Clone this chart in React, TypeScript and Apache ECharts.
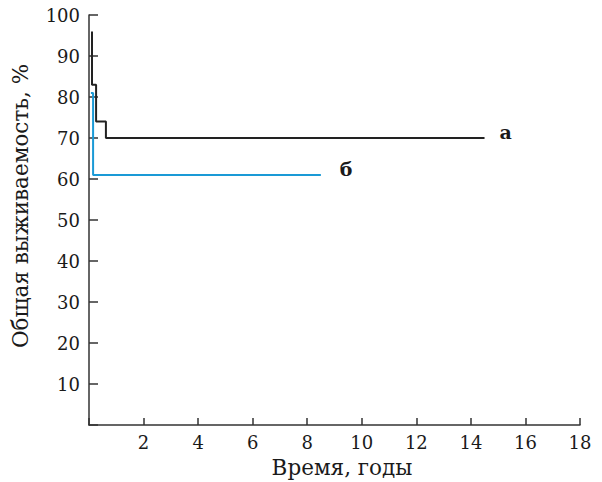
import React, { useEffect, useRef } from "react";
import * as echarts from "echarts";

const xTicks = [0, 2, 4, 6, 8, 10, 12, 14, 16, 18];
const yTicks = [0, 10, 20, 30, 40, 50, 60, 70, 80, 90, 100];

// Curve "а" (Kaplan–Meier style steps)
const timesA = [0.11, 0.11, 0.26, 0.26, 0.62, 0.62, 14.5];
const survA = [96, 83, 83, 74, 74, 70, 70];

// Curve "б"
const timesB = [0.07, 0.15, 0.15, 8.5];
const survB = [81, 81, 61, 61];

const labelA = "а";
const labelB = "б";
const xTitle = "Время, годы";
const yTitle = "Общая выживаемость, %";

const FONT = "DejaVu Serif";
const TEXT = "#1a1a1a";

export default function App() {
  const ref = useRef<HTMLDivElement>(null);
  useEffect(() => {
    if (!ref.current) return;
    const chart = echarts.init(ref.current, undefined, { renderer: "svg" });
    const dataA = timesA.map((t, i) => [t, survA[i]]);
    const dataB = timesB.map((t, i) => [t, survB[i]]);
    chart.setOption({
      animation: false,
      backgroundColor: "#fff",
      grid: { left: 89, right: 22, top: 15, bottom: 57 },
      xAxis: {
        type: "value",
        min: xTicks[0],
        max: xTicks[xTicks.length - 1],
        interval: 2,
        splitLine: { show: false },
        axisLine: { lineStyle: { color: "#333", width: 1.5 } },
        axisTick: { inside: true, length: 7, lineStyle: { color: "#333", width: 1.5 } },
        axisLabel: {
          color: TEXT,
          fontFamily: FONT,
          fontSize: 18,
          margin: 8,
          formatter: (v: number) => (v === 0 ? "" : String(v)),
        },
      },
      yAxis: {
        type: "value",
        min: yTicks[0],
        max: yTicks[yTicks.length - 1],
        interval: 10,
        splitLine: { show: false },
        axisLine: { show: true, lineStyle: { color: "#333", width: 1.5 } },
        axisTick: { show: true, inside: true, length: 9, lineStyle: { color: "#333", width: 1.5 } },
        axisLabel: {
          color: TEXT,
          fontFamily: FONT,
          fontSize: 18,
          margin: 9,
          formatter: (v: number) => (v === 0 ? "" : String(v)),
        },
      },
      series: [
        {
          type: "line",
          data: dataA,
          symbol: "none",
          lineStyle: { color: "#222", width: 2 },
          endLabel: {
            show: true,
            formatter: labelA,
            color: TEXT,
            fontFamily: FONT,
            fontWeight: "bold",
            fontSize: 19,
            offset: [7, -6],
          },
        },
        {
          type: "line",
          data: dataB,
          symbol: "none",
          lineStyle: { color: "#1a9ad6", width: 2 },
          endLabel: {
            show: true,
            formatter: labelB,
            color: TEXT,
            fontFamily: FONT,
            fontWeight: "bold",
            fontSize: 19,
            offset: [11, -6],
          },
        },
      ],
      graphic: [
        {
          type: "text",
          x: 342,
          y: 467,
          style: {
            text: xTitle,
            fill: TEXT,
            font: `21.5px '${FONT}'`,
            align: "center",
            verticalAlign: "middle",
          },
        },
        {
          type: "text",
          x: 20,
          y: 206,
          rotation: Math.PI / 2,
          style: {
            text: yTitle,
            fill: TEXT,
            font: `21.5px '${FONT}'`,
            align: "center",
            verticalAlign: "middle",
          },
        },
      ],
    });
    return () => chart.dispose();
  }, []);
  return (
    <div
      ref={ref}
      style={{ position: "fixed", left: 0, top: 0, width: 602, height: 482 }}
    />
  );
}
